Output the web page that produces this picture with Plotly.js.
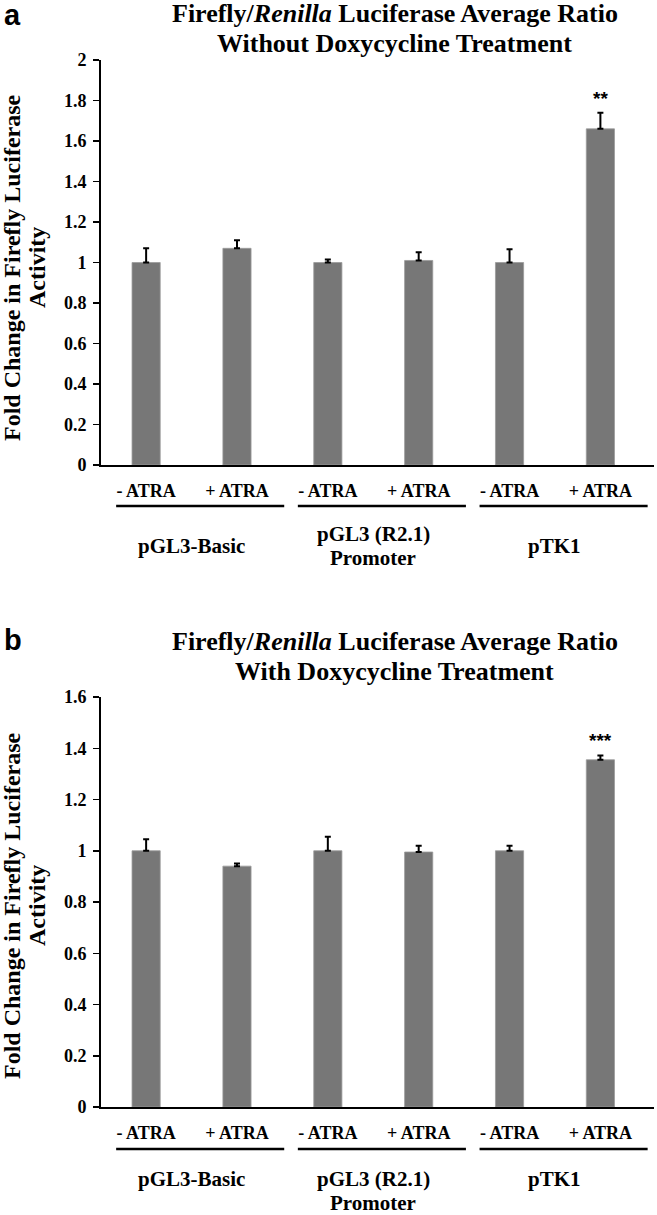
<!DOCTYPE html>
<html>
<head>
<meta charset="utf-8">
<script src="https://cdn.plot.ly/plotly-3.0.1.min.js"></script>
<style>html,body{margin:0;padding:0;background:#fff;}#chart{width:657px;height:1215px;}</style>
</head>
<body>
<div id="chart"></div>
<script>
// ---- data ----
const treatments = ["- ATRA", "+ ATRA", "- ATRA", "+ ATRA", "- ATRA", "+ ATRA"];
const constructs = ["pGL3-Basic", "pGL3 (R2.1)<br>Promoter", "pTK1"];
const noDoxValues = [1.00, 1.07, 1.00, 1.01, 1.00, 1.66];
const noDoxErrors = [0.07, 0.04, 0.015, 0.04, 0.065, 0.08];
const doxValues = [1.00, 0.94, 1.00, 0.995, 1.00, 1.355];
const doxErrors = [0.045, 0.01, 0.055, 0.025, 0.02, 0.017];
const noDoxStars = ["", "", "", "", "", "**"];
const doxStars = ["", "", "", "", "", "***"];
const yTicksA = [0, 0.2, 0.4, 0.6, 0.8, 1, 1.2, 1.4, 1.6, 1.8, 2];
const yTicksB = [0, 0.2, 0.4, 0.6, 0.8, 1, 1.2, 1.4, 1.6];
const titleLinesA = ["Firefly/<i>Renilla</i> Luciferase Average Ratio", "Without Doxycycline Treatment"];
const titleLinesB = ["Firefly/<i>Renilla</i> Luciferase Average Ratio", "With Doxycycline Treatment"];
const yTitleLines = ["Fold Change in Firefly Luciferase", "Activity"];

const serif = "'Liberation Serif', 'Times New Roman', serif";
const sans = "'Liberation Sans', Arial, sans-serif";
const barColor = "#777777";
const idx = treatments.map((_, i) => i);

function barTrace(vals, errs, xa, ya) {
  return {
    type: "bar", x: idx, y: vals, xaxis: xa, yaxis: ya,
    width: 0.31,
    marker: {color: barColor, line: {color: "#9a9a9a", width: 0.8}},
    error_y: {type: "data", array: errs, arrayminus: errs.map(() => 0), symmetric: false,
              color: "#000", thickness: 2, width: 3},
    hoverinfo: "skip", showlegend: false
  };
}

const data = [
  barTrace(noDoxValues, noDoxErrors, "x", "y"),
  barTrace(doxValues, doxErrors, "x2", "y2")
];

const H = 1215;
const py = px => 1 - px / H;

function xAxis(dom, anchor) {
  return {
    domain: dom, anchor: anchor, range: [-0.5, 5.59],
    tickmode: "array", tickvals: idx, ticktext: treatments,
    ticks: "", ticklabelstandoff: 9,
    tickfont: {family: serif, size: 18, color: "#000", weight: 700},
    showline: true, linecolor: "#000", linewidth: 1.5,
    showgrid: false, zeroline: false, fixedrange: true
  };
}
function yAxis(dom, anchor, rng, ticks) {
  return {
    domain: dom, anchor: anchor, range: rng,
    tickmode: "array", tickvals: ticks, ticktext: ticks.map(String),
    ticks: "outside", ticklen: 6, tickwidth: 1.5, tickcolor: "#000",
    ticklabelstandoff: 3,
    tickfont: {family: serif, size: 18, color: "#000", weight: 700},
    showline: true, linecolor: "#000", linewidth: 1.5,
    showgrid: false, zeroline: false, fixedrange: true
  };
}

const xDom = [100.7 / 657, 654 / 657];
const annotations = [];
const shapes = [];

function txt(text, x, y, xref, yref, size, family, extra) {
  annotations.push(Object.assign({text: text, x: x, y: y, xref: xref, yref: yref,
    xanchor: "center", yanchor: "middle", showarrow: false,
    font: {family: family, size: size, color: "#000", weight: 700}}, extra || {}));
}

function panel(o) {
  txt(o.letter, 0.003, py(o.letterY), "paper", "paper", 29, sans, {xanchor: "left"});
  o.titleLines.forEach((t, k) => txt(t, 0.601, py(o.titleY + 30 * k), "paper", "paper", 26, serif));
  yTitleLines.forEach((t, k) => txt(t, (12 + 25 * k) / 657, py(o.yTitleY), "paper", "paper", 24, serif, {textangle: -90}));
  o.stars.forEach((s, i) => {
    if (s) txt(s, i, o.vals[i] + o.errs[i], o.xa, o.ya, 19, sans, {yanchor: "bottom", yshift: 2});
  });
  constructs.forEach((c, g) => {
    const lines = c.split("<br>");
    const start = lines.length > 1 && !o.aligned ? o.groupY - 12 : o.groupY;
    lines.forEach((ln, k) => txt(ln, 2 * g + 0.5, py(start + 24 * k), o.xa, "paper", 21, serif));
    shapes.push({type: "line", xref: o.xa, yref: "paper", x0: 2 * g - 0.33, x1: 2 * g + 1.52,
      y0: py(o.underlineY), y1: py(o.underlineY), line: {color: "#000", width: 2.5}});
  });
}

panel({letter: "a", letterY: 15, titleLines: titleLinesA, titleY: 14, xa: "x", ya: "y", yTitleY: 268,
  stars: noDoxStars, vals: noDoxValues, errs: noDoxErrors, underlineY: 506, groupY: 546, aligned: false});
panel({letter: "b", letterY: 640, titleLines: titleLinesB, titleY: 642, xa: "x2", ya: "y2", yTitleY: 906,
  stars: doxStars, vals: doxValues, errs: doxErrors, underlineY: 1149, groupY: 1179, aligned: true});

const layout = {
  width: 657, height: 1215,
  margin: {l: 0, r: 0, t: 0, b: 0},
  paper_bgcolor: "#fff", plot_bgcolor: "#fff",
  showlegend: false,
  xaxis: xAxis(xDom, "y"),
  yaxis: yAxis([py(465), py(60)], "x", [0, 2], yTicksA),
  xaxis2: xAxis(xDom, "y2"),
  yaxis2: yAxis([py(1107), py(697)], "x2", [0, 1.6], yTicksB),
  annotations: annotations,
  shapes: shapes
};

Plotly.newPlot("chart", data, layout, {staticPlot: true, displayModeBar: false});
</script>
</body>
</html>
